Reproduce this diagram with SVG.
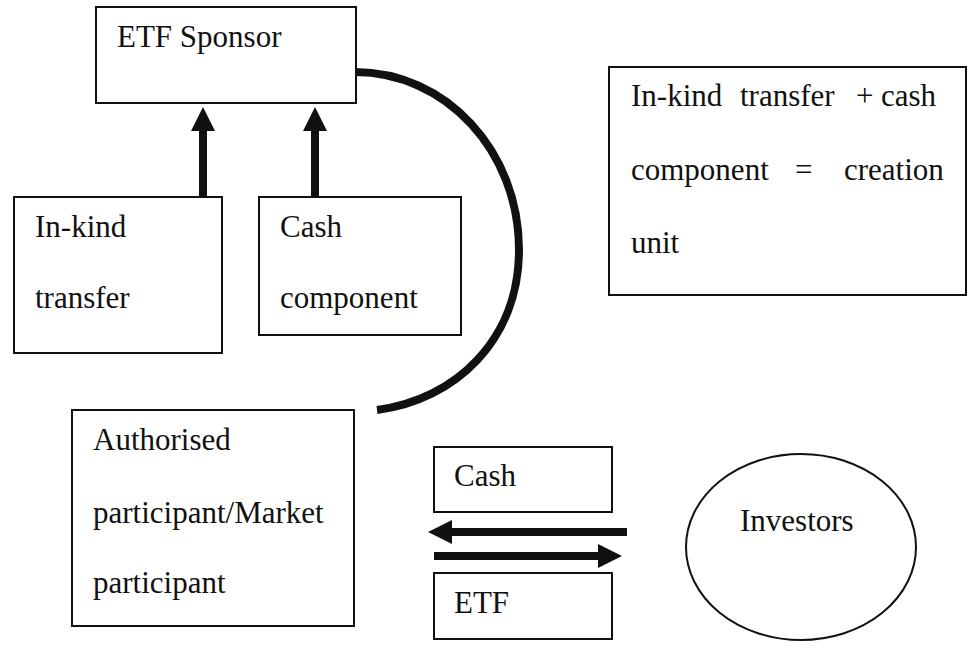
<svg xmlns="http://www.w3.org/2000/svg" width="973" height="648" viewBox="0 0 973 648">
  <defs>
    <style>
      .box { fill: #ffffff; stroke: #111111; stroke-width: 2; }
      .lbl { font-family: "Liberation Serif", "Times New Roman", serif; font-size: 31px; fill: #111111; }
      .shaft { fill: none; stroke: #111111; stroke-width: 8; }
      .head { fill: #111111; }
      .arc { fill: none; stroke: #111111; stroke-width: 8; }
    </style>
  </defs>
  <rect width="973" height="648" fill="#ffffff"/>

  <g id="etf-sponsor">
    <rect class="box" x="96" y="7" width="260" height="96"/>
    <text class="lbl" x="117" y="47">ETF Sponsor</text>
  </g>

  <g id="in-kind-transfer">
    <rect class="box" x="14" y="197" width="208" height="156"/>
    <text class="lbl" x="35" y="237">In-kind</text>
    <text class="lbl" x="35" y="308">transfer</text>
  </g>

  <g id="cash-component">
    <rect class="box" x="259" y="197" width="202" height="138"/>
    <text class="lbl" x="280" y="237">Cash</text>
    <text class="lbl" x="280" y="308">component</text>
  </g>

  <g id="creation-unit-note">
    <rect class="box" x="609" y="67" width="357" height="228"/>
    <!-- justified lines: each word placed on its own -->
    <text class="lbl" y="106"><tspan x="631">In-kind</tspan><tspan x="740">transfer</tspan><tspan x="856">+</tspan><tspan x="881">cash</tspan></text>
    <text class="lbl" y="180"><tspan x="631">component</tspan><tspan x="795">=</tspan><tspan x="844">creation</tspan></text>
    <text class="lbl" x="631" y="253">unit</text>
  </g>

  <g id="authorised-participant">
    <rect class="box" x="72" y="410" width="282" height="216"/>
    <text class="lbl" x="93" y="450">Authorised</text>
    <text class="lbl" x="93" y="523">participant/Market</text>
    <text class="lbl" x="93" y="593">participant</text>
  </g>

  <g id="cash">
    <rect class="box" x="434" y="447" width="178" height="65"/>
    <text class="lbl" x="454" y="486">Cash</text>
  </g>

  <g id="etf">
    <rect class="box" x="434" y="573" width="178" height="66"/>
    <text class="lbl" x="454" y="613">ETF</text>
  </g>

  <g id="investors">
    <ellipse class="box" cx="801" cy="547" rx="115" ry="93"/>
    <text class="lbl" x="740" y="531">Investors</text>
  </g>

  <g id="connectors">
    <!-- in-kind transfer up to sponsor -->
    <line class="shaft" x1="203" y1="197" x2="203" y2="128"/>
    <polygon class="head" points="203,107 191,131 215,131"/>
    <!-- cash component up to sponsor -->
    <line class="shaft" x1="315" y1="197" x2="315" y2="128"/>
    <polygon class="head" points="315,107 303,131 327,131"/>
    <!-- sponsor back round to the authorised participant -->
    <path class="arc" d="M355,72 C445,72 519,150 519,250 C519,340 455,400 377,410"/>
    <!-- cash flowing to the participant -->
    <line class="shaft" x1="627" y1="532" x2="448" y2="532"/>
    <polygon class="head" points="428,532 452,520 452,544"/>
    <!-- ETF units flowing to investors -->
    <line class="shaft" x1="434" y1="556" x2="602" y2="556"/>
    <polygon class="head" points="622,556 598,544 598,568"/>
  </g>
</svg>
